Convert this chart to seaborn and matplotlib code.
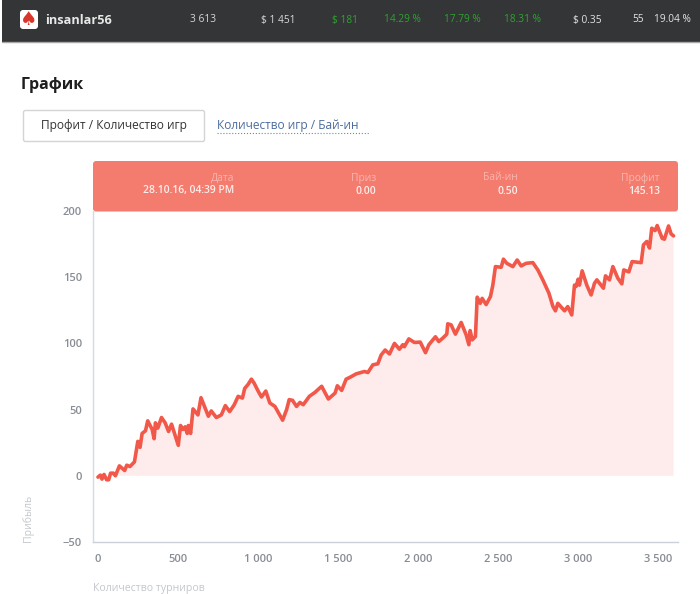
import matplotlib
matplotlib.use('Agg')
import matplotlib.pyplot as plt
from matplotlib.patches import FancyBboxPatch, Rectangle
from matplotlib.ticker import FuncFormatter
import seaborn as sns
import pandas as pd
import numpy as np

# Data
games = [0, 15, 25, 38, 54, 67, 79, 96, 109, 134, 167, 180, 200, 228, 249, 263, 276, 297, 311, 328,
         339, 351, 359, 374, 397, 420, 441, 460, 481, 502, 516, 531, 545, 558, 565, 579, 594, 625, 644, 662,
         690, 708, 740, 771, 796, 823, 851, 876, 903, 917, 938, 959, 976, 1001, 1022, 1049, 1074, 1106, 1154, 1179,
         1195, 1216, 1241, 1262, 1283, 1321, 1356, 1398, 1440, 1482, 1496, 1523, 1551, 1572, 1614, 1666, 1687, 1718, 1749, 1770,
         1795, 1822, 1853, 1884, 1905, 1915, 1943, 1978, 2014, 2047, 2068, 2109, 2130, 2155, 2180, 2186, 2207, 2234, 2270, 2301,
         2318, 2326, 2339, 2359, 2370, 2389, 2401, 2426, 2453, 2468, 2484, 2520, 2534, 2555, 2593, 2620, 2645, 2676, 2718, 2749,
         2780, 2818, 2843, 2859, 2874, 2916, 2936, 2961, 2978, 2988, 3001, 3009, 3026, 3055, 3082, 3103, 3118, 3159, 3172, 3197,
         3218, 3249, 3274, 3286, 3318, 3338, 3395, 3409, 3430, 3447, 3461, 3482, 3495, 3526, 3540, 3551, 3566, 3582, 3597]
profit = [-1, 0.5, -2.5, 1, -3, -3, 2, 2, 0, 7.5, 4, 8, 7, 10.5, 26, 21.5, 32, 34, 41.5, 37.5,
          35, 28, 40, 36, 44, 40, 33.5, 39, 31, 23, 38, 35, 37, 32, 38, 32, 50.5, 46, 59, 53.5,
          45, 49, 44, 46, 53, 48.5, 53.5, 60, 58.7, 66, 69, 73, 70, 64, 59.5, 64, 55, 52.4, 42, 50,
          57.5, 57, 52.4, 55.4, 53.7, 60, 63, 67.6, 58, 62.5, 68, 64.5, 73, 74.2, 77, 78.8, 78, 83.8, 84.6, 91.3,
          95, 92, 100, 95.6, 99, 97.5, 103.4, 100.7, 101, 93, 99, 105, 101.4, 104, 107, 114.8, 114, 107, 115.8, 106.5,
          99, 109.7, 102.7, 105.2, 134.9, 130.3, 134, 129.3, 135.4, 144.2, 158, 157.5, 163.6, 160.5, 158, 163, 158.5, 160.5, 161, 155.5,
          148, 138, 128, 124.6, 130.3, 124.6, 127.8, 121.5, 144, 143, 148.5, 144, 154.8, 144, 136.6, 145.4, 148, 141.7, 151, 148,
          158, 149.2, 145, 155.5, 154, 161.8, 161, 174.4, 177, 172, 187, 185.2, 189, 179.4, 178.7, 183, 188.7, 182.7, 181.2]
y_ticks = [-50, 0, 50, 100, 150, 200]
x_ticks = [0, 500, 1000, 1500, 2000, 2500, 3000, 3500]
stat_labels = ['3 613', '$ 1 451', '$ 181', '14.29 %', '17.79 %', '18.31 %', '$ 0.35', '55', '19.04 %']
stat_colors = ['#d8d8d8', '#d8d8d8', '#2ea32e', '#2ea32e', '#2ea32e', '#2ea32e', '#e4e4e4', '#e4e4e4', '#e4e4e4']
stat_x = [203, 278, 345, 402, 462, 522, 587, 638, 672]
tip_titles = ['Дата', 'Приз', 'Бай-ин', 'Профит']
tip_values = ['28.10.16, 04:39 PM', '0.00', '0.50', '145.13']
tip_x = [234, 376, 518, 660]

W, H = 700, 594
sns.set_theme(style='white')
plt.rcParams['font.family'] = ['Open Sans', 'DejaVu Sans']

fig = plt.figure(figsize=(W / 100, H / 100), dpi=100, facecolor='white')

# overlay in pixel coordinates for the page furniture
page = fig.add_axes([0, 0, 1, 1])
page.set_xlim(0, W)
page.set_ylim(H, 0)
page.axis('off')

page.add_patch(Rectangle((2, -5), 698, 47, facecolor='#333537', edgecolor='none'))
page.plot([2, 700], [42, 42], color='#a8a8a8', lw=1)
page.add_patch(FancyBboxPatch((21, 11), 16, 17, boxstyle='round,pad=1,rounding_size=3', facecolor='white', edgecolor='none'))
page.text(29, 19.5, '♠', color='#d9362b', fontsize=14, ha='center', va='center', family='DejaVu Sans')
page.text(45, 20.5, 'insanlar56', color='#e8e8e8', fontsize=9.2, fontweight='bold', va='center')
for label, color, x in zip(stat_labels, stat_colors, stat_x):
    page.text(x, 20, label, color=color, fontsize=7.3, ha='center', va='center')

page.text(21, 85, 'График', color='#1e1e1e', fontsize=11.5, fontweight='bold', va='center')
page.add_patch(FancyBboxPatch((24, 111), 180, 30, boxstyle='round,pad=0.5,rounding_size=2', facecolor='white', edgecolor='#d4d4d4', lw=1))
page.text(114, 125.5, 'Профит / Количество игр', color='#333333', fontsize=8.6, ha='center', va='center')
page.text(217, 125.5, 'Количество игр / Бай-ин', color='#4b6c9e', fontsize=8.6, va='center')
page.plot([217, 370], [133, 133], color='#6a86b0', lw=0.8, ls=':')

page.add_patch(FancyBboxPatch((94, 162), 583, 48.5, boxstyle='round,pad=1,rounding_size=3', facecolor='#f47c6f', edgecolor='none'))
for title, value, x in zip(tip_titles, tip_values, tip_x):
    page.text(x, 178, title, color='#f9b5ad', fontsize=7.4, ha='right', va='center')
    page.text(x, 191, value, color='#fdeeec', fontsize=7.4, fontweight='semibold', ha='right', va='center')

# chart
ax = fig.add_axes([93 / W, 1 - 542 / H, (678 - 93) / W, (542 - 211) / H])
ax.patch.set_alpha(0)
df = pd.DataFrame({'games': games, 'profit': profit})
x = df['games'].to_numpy()
y = df['profit'].to_numpy()
ax.fill_between(x, 0, y, where=y > 0, interpolate=True, color='#fdeceb', lw=0, zorder=1)
sns.lineplot(data=df, x='games', y='profit', color='#f1584a', linewidth=2.6, ax=ax, zorder=2)

ax.set_xlim(-31, 3625)
ax.set_ylim(-50, 200)
ax.set_xticks(x_ticks)
ax.set_yticks(y_ticks)
ax.xaxis.set_major_formatter(FuncFormatter(lambda v, _: f'{int(v):,}'.replace(',', ' ')))
ax.yaxis.set_major_formatter(FuncFormatter(lambda v, _: f'{int(v)}'.replace('-', '−')))
ax.tick_params(axis='both', length=0, labelsize=8, labelcolor='#888c94', pad=8)
ax.tick_params(axis='x', pad=9)
for lab in ax.get_xticklabels() + ax.get_yticklabels():
    lab.set_fontweight('semibold')

sns.despine(ax=ax)
ax.spines['left'].set_color('#d6d9df')
ax.spines['bottom'].set_color('#ccd0d8')
ax.spines['left'].set_linewidth(1)
ax.spines['bottom'].set_linewidth(1)

ax.set_xlabel('Количество турниров', color='#c4c7cc', fontsize=7.6, loc='left', labelpad=0)
ax.xaxis.set_label_coords(0, -(589 - 542) / (542 - 211), transform=ax.transAxes)
ax.xaxis.label.set_va('center')
ax.set_ylabel('Прибыль', color='#c4c7cc', fontsize=7.6, loc='bottom', labelpad=0)
ax.yaxis.set_label_coords(-(93 - 34) / (678 - 93), 0, transform=ax.transAxes)

fig.savefig('out.png', dpi=100)
